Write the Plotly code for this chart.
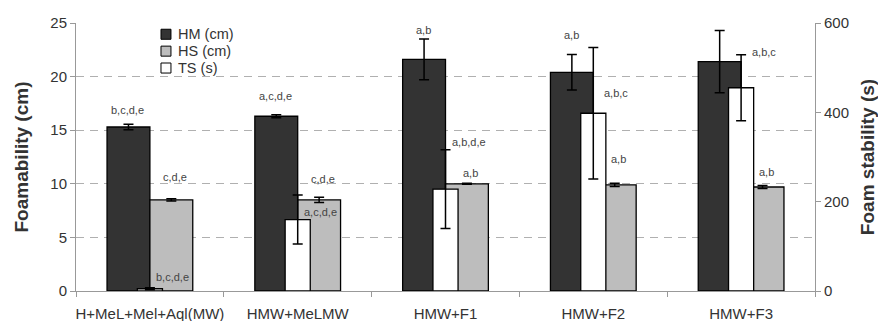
import plotly.graph_objects as go

categories = ["H+MeL+Mel+Aql(MW)", "HMW+MeLMW", "HMW+F1", "HMW+F2", "HMW+F3"]

hm_values = [15.3, 16.3, 21.6, 20.4, 21.4]
hm_errors = [0.25, 0.15, 1.9, 1.65, 2.9]
hs_values = [8.5, 8.5, 10.0, 9.9, 9.7]
hs_errors = [0.1, 0.25, 0.05, 0.15, 0.15]
ts_values = [5, 160, 228, 398, 455]
ts_errors = [2, 55, 88, 147, 74]

hm_labels = ["b,c,d,e", "a,c,d,e", "a,b", "a,b", "a,b"]
hs_labels = ["c,d,e", "c,d,e", "a,b", "a,b", "a,b"]
ts_labels = ["b,c,d,e", "a,c,d,e", "a,b,d,e", "a,b,c", "a,b,c"]

series_names = ["HM (cm)", "HS (cm)", "TS (s)"]
series_colors = ["#333333", "#bdbdbd", "#ffffff"]

# label placement (layout, not data)
hm_label_y = [16.9, 18.2, 24.35, 23.9, 25.75]
hs_label_y = [10.6, 10.45, 11.0, 12.3, 11.1]
ts_label_y = [31, 177, 334, 444, 536]

FONT = "Arial, Liberation Sans, sans-serif"
BW = 0.29
TW = 0.17

fig = go.Figure()
fig.add_trace(go.Bar(
    name=series_names[0], x=categories, y=hm_values, width=BW, offset=-BW,
    marker=dict(color=series_colors[0], line=dict(color="#000000", width=1.3)),
    error_y=dict(type="data", array=hm_errors, color="#000000", thickness=1.5, width=5),
    yaxis="y"))
fig.add_trace(go.Bar(
    name=series_names[1], x=categories, y=hs_values, width=BW, offset=0,
    marker=dict(color=series_colors[1], line=dict(color="#000000", width=1.3)),
    error_y=dict(type="data", array=hs_errors, color="#000000", thickness=1.5, width=5),
    yaxis="y"))
fig.add_trace(go.Bar(
    name=series_names[2], x=categories, y=ts_values, width=TW, offset=-TW / 2,
    marker=dict(color=series_colors[2], line=dict(color="#000000", width=1.3)),
    error_y=dict(type="data", array=ts_errors, color="#000000", thickness=1.5, width=5),
    yaxis="y2"))

annotations = []
lab_font = dict(size=11, color="#444444", family=FONT)
for i, c in enumerate(categories):
    annotations.append(dict(x=c, y=hm_label_y[i], xref="x", yref="y", text=hm_labels[i],
                            xshift=-22, showarrow=False, font=lab_font))
    annotations.append(dict(x=c, y=hs_label_y[i], xref="x", yref="y", text=hs_labels[i],
                            xshift=25, showarrow=False, font=lab_font))
    annotations.append(dict(x=c, y=ts_label_y[i], xref="x", yref="y2", text=ts_labels[i],
                            xshift=23, showarrow=False, font=lab_font))

# manual compact legend (plot-area paper coordinates)
shapes = []
leg_x0, leg_size = 0.115, 0.0135
leg_rows = [0.958, 0.895, 0.832]
for name, col, yc in zip(series_names, series_colors, leg_rows):
    shapes.append(dict(type="rect", xref="paper", yref="paper",
                       x0=leg_x0, x1=leg_x0 + leg_size, y0=yc - 0.0187, y1=yc + 0.0187,
                       fillcolor=col, line=dict(color="#000000", width=1)))
    annotations.append(dict(x=leg_x0 + leg_size + 0.007, y=yc, xref="paper", yref="paper",
                            xanchor="left", yanchor="middle", text=name, showarrow=False,
                            font=dict(size=14.5, color="#333333", family=FONT)))

# the page body adds an 8px offset, so the figure is sized to end at the window edge
fig.update_layout(
    width=878, height=313,
    margin=dict(l=68, r=71, t=15, b=30),
    paper_bgcolor="white", plot_bgcolor="white",
    barmode="overlay",
    font=dict(family=FONT, size=15, color="#333333"),
    showlegend=False,
    xaxis=dict(type="category", showline=True, linecolor="#999999", linewidth=1,
               ticks="outside", tickson="boundaries", ticklen=5, tickcolor="#999999",
               tickangle=0, automargin=False, ticklabelstandoff=9,
               tickfont=dict(size=15, color="#333333"), showgrid=False, zeroline=False),
    yaxis=dict(range=[0, 25], dtick=5, showline=True, linecolor="#999999", linewidth=1,
               ticks="outside", ticklen=5, tickcolor="#999999", automargin=False,
               showgrid=True, gridcolor="#b0b0b0", griddash="8px,6px", gridwidth=1,
               zeroline=False, tickfont=dict(size=15, color="#333333"),
               title=dict(text="<b>Foamability (cm)</b>", font=dict(size=19, color="#333333"), standoff=16)),
    yaxis2=dict(range=[0, 600], dtick=200, overlaying="y", side="right", showline=True,
                linecolor="#999999", linewidth=1, ticks="outside", ticklen=5, tickcolor="#999999",
                showgrid=False, zeroline=False, tickfont=dict(size=15, color="#333333"),
                automargin=False,
                title=dict(text="<b>Foam stability (s)</b>", font=dict(size=19, color="#333333"), standoff=12)),
    annotations=annotations,
    shapes=shapes,
)

fig.write_html("out.html")
